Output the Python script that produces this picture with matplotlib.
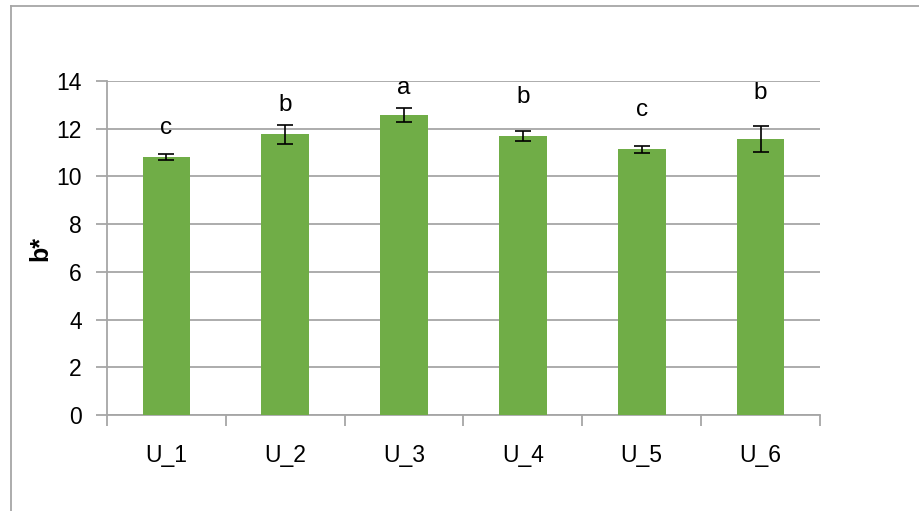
import matplotlib.pyplot as plt
import numpy as np
from matplotlib.lines import Line2D

categories = ["U_1", "U_2", "U_3", "U_4", "U_5", "U_6"]
values = [10.83, 11.76, 12.58, 11.69, 11.14, 11.58]
errors = [0.13, 0.41, 0.28, 0.22, 0.15, 0.55]
letters = ["c", "b", "a", "b", "c", "b"]
letter_y = [12.05, 13.0, 13.7, 13.35, 12.8, 13.5]

GREEN = "#70ad47"
GRID = "#a6a6a6"
FONT = "Liberation Sans"

plt.rcParams['font.family'] = [FONT, 'DejaVu Sans']

fig = plt.figure(figsize=(9.2, 5.11), dpi=100)
ax = fig.add_axes([107 / 920, 1 - 415 / 511, 713 / 920, 334 / 511])

x = np.arange(len(categories))
ax.bar(x, values, width=0.4, color=GREEN, zorder=3)
ax.errorbar(x, values, yerr=errors, fmt='none', ecolor='black', elinewidth=1.2,
            capsize=5.5, capthick=1.2, zorder=4)

for xi, lab, ly in zip(x, letters, letter_y):
    ax.text(xi, ly, lab, ha='center', va='center', fontsize=17.5, color='black')

ax.set_xlim(-0.5, len(categories) - 0.5)
ax.set_ylim(0, 14)
ax.set_yticks(range(0, 15, 2))
ax.yaxis.grid(True, color=GRID, linewidth=1.3, zorder=0)
ax.set_axisbelow(True)

for s in ['top', 'right']:
    ax.spines[s].set_visible(False)
ax.spines['left'].set_color(GRID)
ax.spines['bottom'].set_color(GRID)
ax.spines['left'].set_linewidth(1.3)
ax.spines['bottom'].set_linewidth(1.3)

# category boundary ticks on x
ax.set_xticks(np.arange(-0.5, len(categories), 1.0))
ax.set_xticklabels([])
ax.set_xticks(x, minor=True)
ax.set_xticklabels(categories, minor=True, fontsize=16.5)
ax.tick_params(axis='x', which='major', length=8, width=1.3, color=GRID, direction='out')
ax.tick_params(axis='x', which='minor', length=0, pad=21)
ax.tick_params(axis='y', length=8, width=1.3, color=GRID, labelsize=16.5, pad=10)

ax.set_ylabel("b*", fontsize=18, fontweight='bold', labelpad=3)

# chart frame (cut off at right and bottom)
fig.add_artist(Line2D([11 / 920, 11 / 920], [0, 1 - 6 / 511], transform=fig.transFigure,
                      color=GRID, linewidth=1.3))
fig.add_artist(Line2D([11 / 920, 1], [1 - 6 / 511, 1 - 6 / 511], transform=fig.transFigure,
                      color=GRID, linewidth=1.3))

fig.savefig("out.png", dpi=100)
